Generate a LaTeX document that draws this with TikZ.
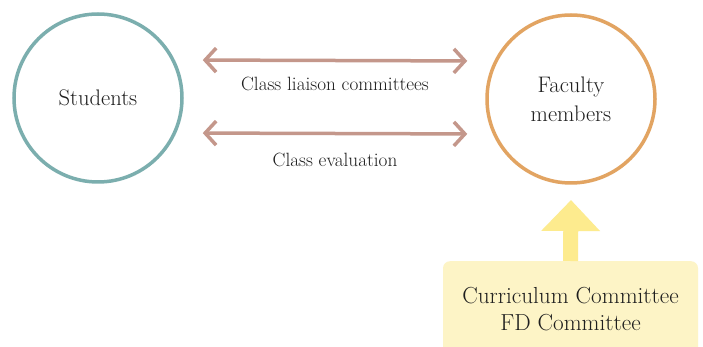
\documentclass[tikz,border=0pt]{standalone}
\usepackage{fontspec}
\usetikzlibrary{arrows.meta}
\definecolor{tealc}{HTML}{7BAEAE}
\definecolor{orangec}{HTML}{E2A462}
\definecolor{arrowc}{HTML}{C4978B}
\definecolor{boxc}{HTML}{FDF4C6}
\definecolor{yarrowc}{HTML}{FDEB8E}
\definecolor{textc}{HTML}{1E1E1E}
\tikzset{
  circ/.style={circle, line width=3.5pt, minimum size=168pt, inner sep=0pt, fill=white, text=textc, align=center, font=\fontsize{22.5}{29}\selectfont},
  biarrow/.style={draw=arrowc, line width=3.5pt, {Straight Barb[length=11pt,width=24pt,line width=3.5pt]}-{Straight Barb[length=11pt,width=24pt,line width=3.5pt]}},
  lbl/.style={text=textc, font=\fontsize{19.2}{22}\selectfont, inner sep=0pt},
  ccbox/.style={fill=boxc, rounded corners=7pt, minimum width=255pt, minimum height=96pt, anchor=north, text=textc, align=center, font=\fontsize{23.2}{27}\selectfont},
  uparrow/.style={draw=yarrowc, line width=15pt, -{Triangle[length=31pt,width=57pt]}}
}
\begin{document}
\begin{tikzpicture}[x=1pt,y=-1pt]
\clip (0,0) rectangle (703,347);
\fill[white] (0,0) rectangle (703,347);
\node[circ, draw=tealc] (stud) at (98,98) {Students};
\node[circ, draw=orangec] (fac) at (571,99) {Faculty\\members};
\draw[biarrow, shorten <=19pt, shorten >=18pt] ([yshift=38pt]stud.east) -- ([yshift=38pt]fac.west);
\draw[biarrow, shorten <=19pt, shorten >=18pt] ([yshift=-35pt]stud.east) -- ([yshift=-35pt]fac.west);
\node[lbl] (l1) at (335,84) {Class liaison committees};
\node[lbl] (l2) at (335,160) {Class evaluation};
\node[ccbox] (cc) at (570.5,261) {Curriculum Committee\\FD Committee};
\coordinate (tip) at (571,200);
\draw[uparrow] (cc.north) -- (tip);
\end{tikzpicture}
\end{document}
